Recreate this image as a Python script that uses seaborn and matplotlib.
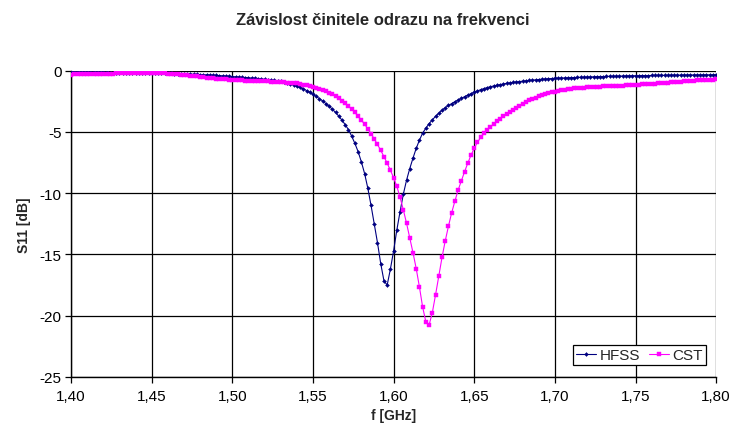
import numpy as np
import pandas as pd
import matplotlib
matplotlib.use("Agg")
import matplotlib.pyplot as plt
import seaborn as sns
from matplotlib.ticker import FuncFormatter


# DATA (2 MHz sweep)

freq_ghz = [
    1.400, 1.402, 1.404, 1.406, 1.408, 1.410, 1.412, 1.414, 1.416, 1.418,
    1.420, 1.422, 1.424, 1.426, 1.428, 1.430, 1.432, 1.434, 1.436, 1.438,
    1.440, 1.442, 1.444, 1.446, 1.448, 1.450, 1.452, 1.454, 1.456, 1.458,
    1.460, 1.462, 1.464, 1.466, 1.468, 1.470, 1.472, 1.474, 1.476, 1.478,
    1.480, 1.482, 1.484, 1.486, 1.488, 1.490, 1.492, 1.494, 1.496, 1.498,
    1.500, 1.502, 1.504, 1.506, 1.508, 1.510, 1.512, 1.514, 1.516, 1.518,
    1.520, 1.522, 1.524, 1.526, 1.528, 1.530, 1.532, 1.534, 1.536, 1.538,
    1.540, 1.542, 1.544, 1.546, 1.548, 1.550, 1.552, 1.554, 1.556, 1.558,
    1.560, 1.562, 1.564, 1.566, 1.568, 1.570, 1.572, 1.574, 1.576, 1.578,
    1.580, 1.582, 1.584, 1.586, 1.588, 1.590, 1.592, 1.594, 1.596, 1.598,
    1.600, 1.602, 1.604, 1.606, 1.608, 1.610, 1.612, 1.614, 1.616, 1.618,
    1.620, 1.622, 1.624, 1.626, 1.628, 1.630, 1.632, 1.634, 1.636, 1.638,
    1.640, 1.642, 1.644, 1.646, 1.648, 1.650, 1.652, 1.654, 1.656, 1.658,
    1.660, 1.662, 1.664, 1.666, 1.668, 1.670, 1.672, 1.674, 1.676, 1.678,
    1.680, 1.682, 1.684, 1.686, 1.688, 1.690, 1.692, 1.694, 1.696, 1.698,
    1.700, 1.702, 1.704, 1.706, 1.708, 1.710, 1.712, 1.714, 1.716, 1.718,
    1.720, 1.722, 1.724, 1.726, 1.728, 1.730, 1.732, 1.734, 1.736, 1.738,
    1.740, 1.742, 1.744, 1.746, 1.748, 1.750, 1.752, 1.754, 1.756, 1.758,
    1.760, 1.762, 1.764, 1.766, 1.768, 1.770, 1.772, 1.774, 1.776, 1.778,
    1.780, 1.782, 1.784, 1.786, 1.788, 1.790, 1.792, 1.794, 1.796, 1.798,
    1.800,
]

hfss_db = [
    -0.12, -0.12, -0.12, -0.13, -0.13, -0.13, -0.14, -0.14, -0.14, -0.15,
    -0.15, -0.15, -0.16, -0.16, -0.16, -0.17, -0.17, -0.17, -0.18, -0.18,
    -0.18, -0.19, -0.19, -0.19, -0.20, -0.20, -0.21, -0.21, -0.22, -0.22,
    -0.23, -0.24, -0.25, -0.26, -0.27, -0.28, -0.29, -0.30, -0.31, -0.32,
    -0.33, -0.34, -0.35, -0.37, -0.38, -0.40, -0.41, -0.43, -0.45, -0.47,
    -0.49, -0.51, -0.53, -0.55, -0.57, -0.59, -0.61, -0.63, -0.65, -0.68,
    -0.71, -0.74, -0.77, -0.81, -0.85, -0.89, -0.94, -1.00, -1.07, -1.15,
    -1.28, -1.38, -1.50, -1.63, -1.78, -1.94, -2.11, -2.29, -2.48, -2.69,
    -2.91, -3.15, -3.42, -3.72, -4.05, -4.42, -4.82, -5.35, -5.95, -6.62,
    -7.45, -8.40, -9.60, -11.0, -12.5, -14.05, -15.75, -17.15, -17.5, -16.2,
    -14.7, -13.0, -11.5, -10.1, -8.95, -8.00, -7.15, -6.35, -5.68, -5.10,
    -4.70, -4.33, -4.02, -3.74, -3.48, -3.24, -3.03, -2.85, -2.69, -2.54,
    -2.40, -2.26, -2.13, -2.00, -1.88, -1.77, -1.66, -1.56, -1.47, -1.39,
    -1.32, -1.26, -1.20, -1.15, -1.10, -1.05, -1.01, -0.97, -0.93, -0.90,
    -0.87, -0.84, -0.81, -0.78, -0.76, -0.73, -0.71, -0.69, -0.67, -0.65,
    -0.63, -0.62, -0.61, -0.60, -0.59, -0.58, -0.57, -0.56, -0.55, -0.54,
    -0.53, -0.52, -0.51, -0.50, -0.50, -0.49, -0.48, -0.47, -0.47, -0.46,
    -0.45, -0.45, -0.44, -0.43, -0.43, -0.42, -0.42, -0.41, -0.41, -0.41,
    -0.40, -0.40, -0.40, -0.39, -0.39, -0.39, -0.38, -0.38, -0.38, -0.37,
    -0.37, -0.37, -0.36, -0.36, -0.36, -0.36, -0.35, -0.35, -0.35, -0.35,
    -0.34,
]

cst_db = [
    -0.33, -0.32, -0.32, -0.31, -0.30, -0.30, -0.29, -0.28, -0.28, -0.27,
    -0.26, -0.26, -0.25, -0.25, -0.24, -0.24, -0.23, -0.23, -0.22, -0.22,
    -0.22, -0.21, -0.21, -0.21, -0.21, -0.21, -0.22, -0.22, -0.23, -0.24,
    -0.25, -0.27, -0.29, -0.31, -0.33, -0.36, -0.39, -0.42, -0.45, -0.48,
    -0.51, -0.54, -0.57, -0.60, -0.63, -0.65, -0.67, -0.69, -0.71, -0.73,
    -0.75, -0.77, -0.79, -0.80, -0.82, -0.83, -0.84, -0.85, -0.86, -0.87,
    -0.88, -0.89, -0.90, -0.91, -0.93, -0.94, -0.96, -0.98, -1.00, -1.02,
    -1.05, -1.09, -1.14, -1.19, -1.25, -1.32, -1.40, -1.49, -1.59, -1.70,
    -1.82, -1.95, -2.10, -2.27, -2.46, -2.67, -2.90, -3.15, -3.42, -3.72,
    -4.04, -4.38, -4.75, -5.15, -5.58, -6.03, -6.51, -7.02, -7.56, -8.13,
    -8.75, -9.45, -10.35, -11.35, -12.45, -13.65, -14.85, -16.15, -17.65, -19.3,
    -20.5, -20.75, -19.75, -18.3, -16.75, -15.25, -13.9, -12.7, -11.6, -10.65,
    -9.75, -9.00, -8.25, -7.55, -6.90, -6.35, -5.85, -5.45, -5.12, -4.85,
    -4.60, -4.36, -4.14, -3.93, -3.73, -3.54, -3.36, -3.19, -3.02, -2.86,
    -2.71, -2.57, -2.44, -2.32, -2.21, -2.11, -2.02, -1.93, -1.85, -1.78,
    -1.71, -1.65, -1.60, -1.56, -1.52, -1.49, -1.46, -1.44, -1.42, -1.40,
    -1.38, -1.36, -1.35, -1.33, -1.32, -1.30, -1.29, -1.28, -1.26, -1.25,
    -1.24, -1.22, -1.21, -1.19, -1.18, -1.16, -1.15, -1.13, -1.12, -1.10,
    -1.08, -1.07, -1.05, -1.03, -1.01, -0.99, -0.97, -0.95, -0.93, -0.91,
    -0.89, -0.87, -0.85, -0.83, -0.81, -0.79, -0.77, -0.76, -0.74, -0.73,
    -0.72,
]

x_ticks = [1.40, 1.45, 1.50, 1.55, 1.60, 1.65, 1.70, 1.75, 1.80]
y_ticks = [0, -5, -10, -15, -20, -25]

assert len(freq_ghz) == len(hfss_db) == len(cst_db)


# STYLE

sns.set_style("white")
plt.rcParams["font.family"] = ["Liberation Sans", "DejaVu Sans"]
plt.rcParams["font.size"] = 10

fig = plt.figure(figsize=(7.33, 4.39), dpi=100)
ax = fig.add_axes([0.097, 0.139, 0.880, 0.698])


# PLOT

sns.lineplot(
    x=freq_ghz, y=hfss_db, ax=ax, color="#000080", label="HFSS",
    marker="D", markersize=2.0, markeredgecolor="#000080",
    markeredgewidth=0.3, linewidth=0.8, zorder=3,
)
sns.lineplot(
    x=freq_ghz, y=cst_db, ax=ax, color="#FF00FF", label="CST",
    marker="s", markersize=2.2, markeredgecolor="#FF00FF",
    markeredgewidth=0.3, linewidth=0.8, zorder=3,
)

ax.set_xlim(1.40, 1.80)
ax.set_ylim(-25, 0)
ax.set_xticks(x_ticks)
ax.set_yticks(y_ticks)
ax.xaxis.set_major_formatter(FuncFormatter(lambda v, p: f"{v:.2f}".replace(".", ",")))
ax.yaxis.set_major_formatter(FuncFormatter(lambda v, p: f"{v:.0f}"))

ax.grid(True, color="black", linewidth=0.9)
ax.set_axisbelow(True)
for side in ["top", "right"]:
    ax.spines[side].set_visible(False)
for side in ["left", "bottom"]:
    ax.spines[side].set_color("black")
    ax.spines[side].set_linewidth(1.0)

ax.tick_params(axis="both", direction="out", length=4, width=0.9,
               color="black", labelsize=11, labelcolor="black",
               bottom=True, left=True)
ax.tick_params(axis="x", pad=5)
ax.tick_params(axis="y", pad=3)

ax.set_xlabel("f [GHz]", fontsize=10, fontweight="bold", labelpad=3)
ax.set_ylabel("S11 [dB]", fontsize=10, fontweight="bold", labelpad=6)
fig.suptitle("Závislost činitele odrazu na frekvenci", fontsize=12,
             fontweight="bold", x=0.5225, y=0.97)

leg = ax.legend(
    loc="lower right", bbox_to_anchor=(0.9845, 0.039), ncol=2,
    frameon=True, fancybox=False, edgecolor="black", framealpha=1,
    handlelength=1.3, handletextpad=0.25, columnspacing=0.55,
    borderpad=0.2, borderaxespad=0.0, fontsize=11,
)
leg.get_frame().set_linewidth(0.9)

fig.savefig("out.png", dpi=100)
